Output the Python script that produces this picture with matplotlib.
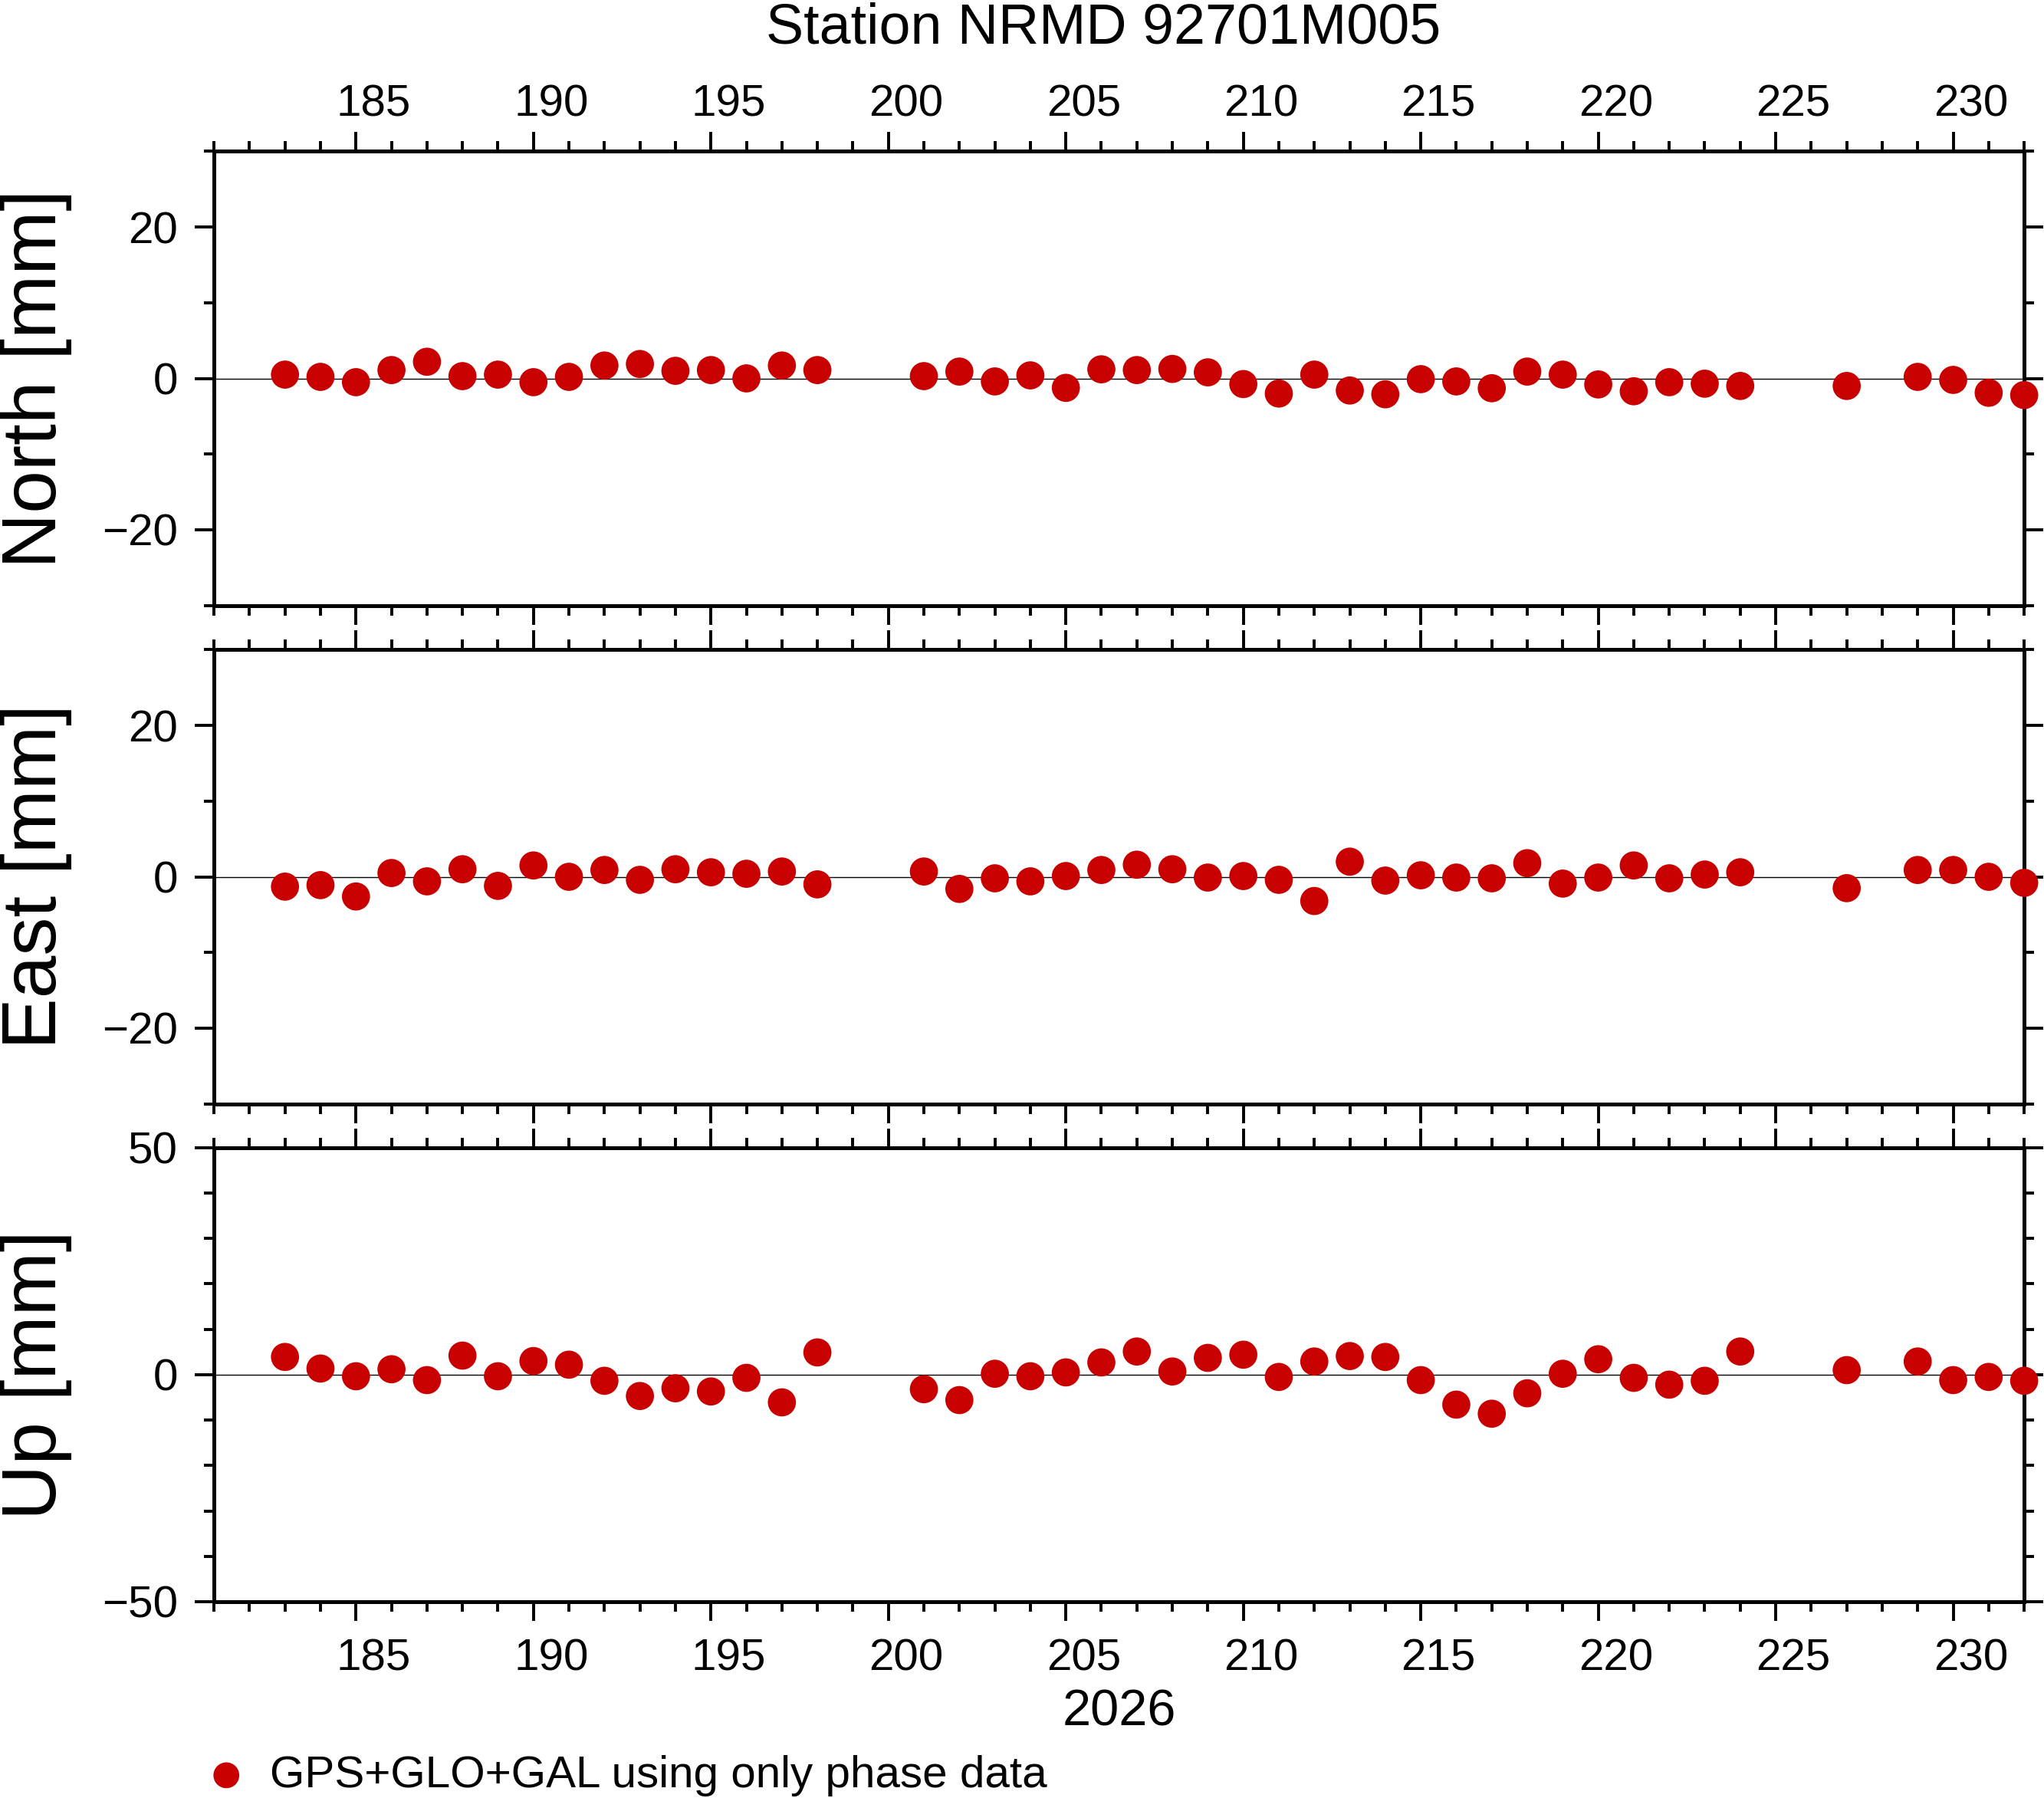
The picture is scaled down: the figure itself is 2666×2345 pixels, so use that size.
import numpy as np
import matplotlib
matplotlib.use("Agg")
import matplotlib.pyplot as plt
from matplotlib.ticker import MultipleLocator, FixedLocator
from matplotlib.transforms import ScaledTranslation

plt.rcParams["font.family"] = ["Liberation Sans", "DejaVu Sans"]

title = "Station NRMD 92701M005"
year_label = "2026"
legend_label = "GPS+GLO+GAL using only phase data"

days = [183, 184, 185, 186, 187, 188, 189, 190, 191, 192, 193, 194, 195, 196, 197, 198,
        201, 202, 203, 204, 205, 206, 207, 208, 209, 210, 211, 212, 213, 214, 215, 216,
        217, 218, 219, 220, 221, 222, 223, 224,
        227, 229, 230, 231, 232]

north = [0.5, 0.2, -0.5, 1.1, 2.2, 0.3, 0.5, -0.5, 0.2, 1.7, 1.9, 1.0, 1.1, 0.0, 1.7, 1.1,
         0.3, 0.9, -0.4, 0.4, -1.25, 1.2, 1.1, 1.25, 0.8, -0.75, -2.0, 0.5, -1.6, -2.1, -0.1, -0.4,
         -1.3, 0.9, 0.5, -0.8, -1.7, -0.5, -0.7, -1.0,
         -1.0, 0.2, -0.2, -1.9, -2.2]

east = [-1.3, -1.1, -2.6, 0.5, -0.6, 1.0, -1.2, 1.5, 0.0, 0.9, -0.4, 1.0, 0.6, 0.4, 0.7, -1.0,
        0.7, -1.6, -0.2, -0.6, 0.1, 0.9, 1.6, 1.0, -0.1, 0.1, -0.4, -3.2, 2.0, -0.5, 0.2, -0.1,
        -0.2, 1.8, -0.9, -0.1, 1.5, -0.2, 0.3, 0.6,
        -1.5, 0.9, 0.9, 0.0, -0.8]

up = [3.9, 1.35, -0.35, 1.2, -1.2, 4.2, -0.35, 3.0, 2.2, -1.35, -4.7, -3.0, -3.7, -0.7, -6.1, 4.9,
      -3.2, -5.6, 0.2, -0.35, 0.5, 2.7, 5.1, 0.7, 3.7, 4.4, -0.5, 2.9, 4.1, 3.9, -1.2, -6.6,
      -8.6, -4.1, 0.2, 3.4, -0.7, -2.2, -1.35, 5.1,
      1.0, 2.9, -1.2, -0.5, -1.35]

panels = [
    ("North [mm]", north, 30, 20, 10),
    ("East [mm]", east, 30, 20, 10),
    ("Up [mm]", up, 50, 50, 10),
]

x_range = (181, 232)
x_major = list(range(185, 232, 5))
red = "#c80000"

fig = plt.figure(figsize=(13.33, 11.725), dpi=200)
bottoms = [0.6633, 0.3861, 0.1092]
left, width, height = 0.1047, 0.8856, 0.2525

# labels sit in the middle of the day, half a day right of the tick
half_day = 0.5 * width * 13.33 / (x_range[1] - x_range[0])
shift = ScaledTranslation(half_day, 0, fig.dpi_scale_trans)

axes = []
for i, (name, vals, lim, major, minor) in enumerate(panels):
    ax = fig.add_axes([left, bottoms[i], width, height])
    ax.axhline(0, color="black", lw=0.5, zorder=1)
    sc = ax.scatter(days, vals, s=13.2 ** 2, color=red, edgecolors="none",
                    zorder=3, clip_on=False, label=legend_label)
    ax.set_xlim(*x_range)
    ax.set_ylim(-lim, lim)
    ax.xaxis.set_major_locator(FixedLocator(x_major))
    ax.xaxis.set_minor_locator(MultipleLocator(1))
    ax.yaxis.set_major_locator(MultipleLocator(major))
    ax.yaxis.set_minor_locator(MultipleLocator(minor))
    ax.tick_params(which="both", direction="out", top=True, right=True,
                   width=1.4, labelsize=21, color="black")
    ax.tick_params(which="major", length=9)
    ax.tick_params(which="minor", length=4.7)
    ax.tick_params(axis="y", which="major", pad=8.1)
    for sp in ax.spines.values():
        sp.set_linewidth(1.8)
    ax.set_ylabel(name, fontsize=36)
    ax.yaxis.set_label_coords(-0.0784, 0.5)
    if i == 0:
        ax.tick_params(axis="x", labeltop=True, labelbottom=False, pad=3.4)
    elif i == 1:
        ax.tick_params(axis="x", labeltop=False, labelbottom=False)
    else:
        ax.tick_params(axis="x", labeltop=False, labelbottom=True, pad=8.3)
        ax.set_xlabel(year_label, fontsize=24)
        ax.xaxis.set_label_coords(0.5, -0.191)
    for t in ax.xaxis.get_major_ticks():
        t.label1.set_transform(t.label1.get_transform() + shift)
        t.label2.set_transform(t.label2.get_transform() + shift)
    axes.append((ax, sc))

fig.text(0.5398, 0.9757, title, fontsize=26.5, ha="center", va="baseline")

fig.legend(handles=[axes[0][1]], labels=[legend_label], loc="center left",
           bbox_to_anchor=(0.0998, 0.0125), frameon=False, fontsize=21,
           borderpad=0, borderaxespad=0, handlelength=1.0, handletextpad=0.48,
           markerscale=0.92, scatterpoints=1)

fig.savefig("out.png", dpi=200)
